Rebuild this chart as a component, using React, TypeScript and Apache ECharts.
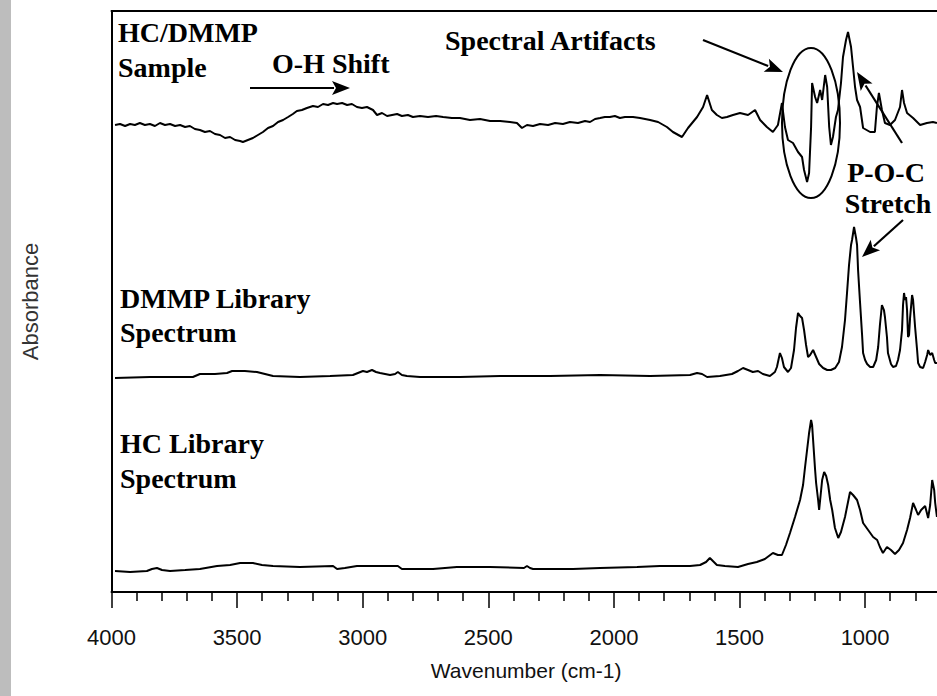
import React, { useEffect, useRef } from "react";
import * as echarts from "echarts";

// Wavenumber (cm-1), absorbance relative to each spectrum's own baseline
const sampleSpectrum: [number, number][] = [
  [3986, 0], [3966, 0.005], [3946, -0.005], [3926, 0.005], [3907, 0], [3887, 0.01], [3867, 0], [3847, 0.005],
  [3827, -0.005], [3807, 0.01], [3787, 0], [3767, 0.005], [3747, -0.005], [3727, 0], [3707, -0.01], [3688, -0.005],
  [3668, -0.02], [3648, -0.025], [3628, -0.035], [3608, -0.03], [3588, -0.045], [3568, -0.05], [3548, -0.065],
  [3528, -0.06], [3508, -0.075], [3488, -0.08], [3477, -0.085], [3457, -0.075], [3437, -0.065], [3417, -0.05],
  [3397, -0.035], [3377, -0.015], [3357, -0.005], [3337, 0.015], [3317, 0.025], [3297, 0.04], [3278, 0.055],
  [3262, 0.07], [3242, 0.075], [3222, 0.085], [3198, 0.095], [3178, 0.09], [3158, 0.105], [3138, 0.1], [3118, 0.11],
  [3102, 0.105], [3082, 0.11], [3062, 0.1], [3043, 0.105], [3023, 0.09], [3003, 0.085], [2983, 0.09], [2959, 0.075],
  [2943, 0.05], [2923, 0.06], [2903, 0.045], [2883, 0.05], [2863, 0.055], [2844, 0.045], [2820, 0.05], [2800, 0.04],
  [2772, 0.045], [2740, 0.04], [2708, 0.045], [2680, 0.04], [2645, 0.035], [2613, 0.035], [2573, 0.025], [2533, 0.03],
  [2493, 0.02], [2453, 0.02], [2414, 0.015], [2386, 0.01], [2366, -0.015], [2346, 0], [2322, -0.005], [2294, 0.005],
  [2262, 0], [2234, 0.01], [2203, 0.005], [2175, 0.015], [2143, 0.01], [2115, 0.02], [2095, 0.015], [2075, 0.03],
  [2055, 0.035], [2036, 0.04], [2016, 0.04], [1996, 0.045], [1976, 0.035], [1956, 0.04], [1924, 0.04], [1896, 0.035],
  [1856, 0.025], [1824, 0.015], [1789, -0.01], [1765, -0.035], [1729, -0.06], [1705, -0.015], [1669, 0.04],
  [1645, 0.09], [1629, 0.15], [1610, 0.075], [1590, 0.05], [1570, 0.035], [1550, 0.04], [1526, 0.05], [1498, 0.06],
  [1466, 0.05], [1438, 0.075], [1418, 0.025], [1391, -0.01], [1367, -0.035], [1347, 0], [1331, 0.11], [1319, -0.01],
  [1307, -0.075], [1287, -0.09], [1267, -0.135], [1251, -0.16], [1243, -0.225], [1231, -0.285], [1223, -0.24],
  [1215, -0.01], [1211, 0.21], [1199, 0.14], [1191, 0.11], [1179, 0.175], [1171, 0.125], [1159, 0.25], [1151, 0.19],
  [1143, -0.01], [1136, -0.1], [1128, -0.06], [1116, 0.04], [1108, 0.075], [1096, 0.21], [1088, 0.34], [1076, 0.425],
  [1068, 0.465], [1056, 0.39], [1048, 0.29], [1040, 0.19], [1032, 0.125], [1020, 0.09], [1008, -0.015], [980, -0.035],
  [961, -0.035], [953, 0.09], [945, 0.16], [933, 0.075], [921, 0.01], [901, 0], [881, 0.025], [861, 0.09], [853, 0.175],
  [845, 0.11], [833, 0.06], [809, 0.035], [781, 0], [754, 0.01], [730, 0.015], [714, 0.01],
];

const dmmpLibrary: [number, number][] = [
  [3986, -0.01], [3847, -0.005], [3676, -0.005], [3648, 0.01], [3588, 0.01], [3540, 0.015], [3520, 0.025],
  [3469, 0.025], [3421, 0.02], [3389, 0.01], [3357, 0], [3250, -0.005], [3130, 0], [3039, 0.005], [3019, 0.015],
  [2999, 0.025], [2983, 0.02], [2963, 0.03], [2947, 0.02], [2931, 0.015], [2911, 0.01], [2891, 0.005], [2871, 0.01],
  [2860, 0.02], [2844, 0.005], [2824, 0], [2772, -0.005], [2613, -0.005], [2453, 0], [2254, 0], [2055, 0.005],
  [1856, 0], [1697, 0.005], [1669, 0.015], [1649, 0.01], [1629, -0.005], [1578, 0], [1530, 0.01], [1506, 0.025],
  [1486, 0.04], [1466, 0.03], [1447, 0.02], [1426, 0.025], [1407, 0.01], [1379, 0], [1359, 0.02], [1351, 0.045],
  [1339, 0.115], [1331, 0.09], [1323, 0.045], [1307, 0.02], [1295, 0.04], [1283, 0.13], [1275, 0.24], [1267, 0.315],
  [1259, 0.3], [1251, 0.29], [1243, 0.23], [1235, 0.155], [1227, 0.095], [1219, 0.105], [1207, 0.13], [1195, 0.095],
  [1183, 0.06], [1167, 0.04], [1151, 0.03], [1136, 0.03], [1119, 0.04], [1104, 0.07], [1092, 0.145], [1080, 0.28],
  [1072, 0.415], [1064, 0.555], [1056, 0.655], [1052, 0.68], [1044, 0.745], [1036, 0.69], [1032, 0.655], [1028, 0.53],
  [1020, 0.365], [1012, 0.205], [1008, 0.115], [1000, 0.08], [992, 0.06], [980, 0.045], [968, 0.045], [956, 0.08],
  [948, 0.145], [941, 0.255], [933, 0.355], [925, 0.33], [921, 0.295], [913, 0.195], [909, 0.115], [897, 0.06],
  [889, 0.045], [877, 0.05], [869, 0.08], [861, 0.13], [853, 0.23], [849, 0.355], [845, 0.415], [841, 0.38],
  [837, 0.395], [833, 0.33], [829, 0.195], [825, 0.205], [821, 0.29], [813, 0.405], [809, 0.38], [801, 0.245],
  [793, 0.13], [789, 0.065], [781, 0.045], [769, 0.04], [761, 0.07], [753, 0.105], [749, 0.13], [741, 0.105],
  [733, 0.115], [725, 0.08], [721, 0.065], [714, 0.065],
];

const hcLibrary: [number, number][] = [
  [3986, 0], [3926, -0.005], [3859, 0], [3839, 0.01], [3819, 0.015], [3799, 0.005], [3767, 0], [3707, 0.005],
  [3648, 0.01], [3580, 0.025], [3528, 0.03], [3488, 0.04], [3437, 0.04], [3401, 0.03], [3357, 0.025], [3250, 0.02],
  [3118, 0.025], [3102, 0.01], [3071, 0.015], [3023, 0.025], [2931, 0.025], [2860, 0.025], [2844, 0.01], [2720, 0.01],
  [2625, 0.02], [2493, 0.02], [2358, 0.015], [2346, 0.025], [2334, 0.015], [2322, 0.01], [2163, 0.01], [2055, 0.015],
  [1908, 0.02], [1817, 0.025], [1697, 0.025], [1657, 0.03], [1633, 0.045], [1618, 0.065], [1602, 0.045], [1590, 0.03],
  [1558, 0.025], [1506, 0.02], [1466, 0.035], [1431, 0.045], [1399, 0.06], [1367, 0.09], [1347, 0.08], [1331, 0.08],
  [1315, 0.13], [1299, 0.19], [1279, 0.27], [1259, 0.355], [1247, 0.43], [1239, 0.52], [1231, 0.605], [1223, 0.69],
  [1215, 0.755], [1211, 0.73], [1207, 0.655], [1199, 0.505], [1195, 0.44], [1187, 0.355], [1183, 0.305], [1179, 0.355],
  [1171, 0.455], [1163, 0.495], [1155, 0.475], [1147, 0.43], [1139, 0.355], [1131, 0.305], [1120, 0.215], [1107, 0.165],
  [1096, 0.195], [1080, 0.27], [1068, 0.345], [1060, 0.395], [1048, 0.38], [1032, 0.355], [1020, 0.305], [1008, 0.24],
  [988, 0.205], [968, 0.17], [952, 0.155], [941, 0.12], [929, 0.09], [913, 0.12], [897, 0.105], [881, 0.085],
  [865, 0.105], [849, 0.14], [833, 0.205], [821, 0.265], [809, 0.34], [797, 0.305], [789, 0.28], [777, 0.305],
  [761, 0.325], [749, 0.265], [741, 0.33], [733, 0.455], [725, 0.405], [721, 0.34], [714, 0.27],
];

const spectra = [sampleSpectrum, dmmpLibrary, hcLibrary];
const seriesNames = ["HC/DMMP Sample", "DMMP Library Spectrum", "HC Library Spectrum"];
const baselineOffsets = [2.335, 1.08, 0.105];
const xTickLabels = [4000, 3500, 3000, 2500, 2000, 1500, 1000];

const SERIF = "'Liberation Serif', 'Times New Roman', serif";
const SANS = "'Liberation Sans', Arial, sans-serif";

function label(text: string, x: number, baseline: number, size = 28, align = "left") {
  return {
    type: "text",
    x,
    y: baseline - size * 0.34,
    style: {
      text,
      fill: "#000",
      font: `bold ${size}px ${SERIF}`,
      textAlign: align,
      textVerticalAlign: "middle",
      verticalAlign: "middle",
    },
    z: 10,
  };
}

function arrow(x1: number, y1: number, x2: number, y2: number, head = 18, half = 7) {
  const dx = x2 - x1;
  const dy = y2 - y1;
  const len = Math.sqrt(dx * dx + dy * dy);
  const ux = dx / len;
  const uy = dy / len;
  const bx = x2 - ux * head;
  const by = y2 - uy * head;
  return [
    { type: "line", shape: { x1, y1, x2: bx + ux * 2, y2: by + uy * 2 }, style: { stroke: "#000", lineWidth: 2.2 }, z: 10 },
    {
      type: "polygon",
      shape: { points: [[x2, y2], [bx - uy * half, by + ux * half], [bx + ux * 4, by + uy * 4], [bx + uy * half, by - ux * half]] },
      style: { fill: "#000" },
      z: 10,
    },
  ];
}

export default function App() {
  const ref = useRef<HTMLDivElement>(null);
  useEffect(() => {
    if (!ref.current) return;
    const chart = echarts.init(ref.current, null, { renderer: "svg" });
    const option = {
      animation: false,
      backgroundColor: "#fff",
      grid: { left: 111.5, top: 11, width: 879.2, height: 581, containLabel: false, outerBoundsMode: "none" },
      xAxis: [
        {
          type: "value",
          inverse: true,
          min: 500,
          max: 4000,
          interval: 500,
          name: "Wavenumber (cm-1)",
          nameLocation: "middle",
          nameGap: 68,
          nameTextStyle: { fontFamily: SANS, fontSize: 21, color: "#111", padding: [0, 50, 0, 0] },
          axisLine: { show: true, onZero: false, lineStyle: { color: "#000", width: 2 } },
          axisTick: { show: true, length: 16, lineStyle: { color: "#000", width: 1.5 } },
          minorTick: { show: true, splitNumber: 5, length: 9, lineStyle: { color: "#000", width: 1.5 } },
          splitLine: { show: false },
          minorSplitLine: { show: false },
          axisLabel: {
            margin: 34,
            fontFamily: SANS,
            fontSize: 22,
            color: "#111",
            formatter: (v: number) => (xTickLabels.includes(v) ? String(v) : ""),
          },
        },
        {
          type: "value",
          position: "top",
          inverse: true,
          min: 500,
          max: 4000,
          axisLine: { show: true, onZero: false, lineStyle: { color: "#000", width: 2 } },
          axisTick: { show: false },
          axisLabel: { show: false },
          splitLine: { show: false },
        },
      ],
      yAxis: {
        type: "value",
        min: 0,
        max: 2.905,
        name: "Absorbance",
        nameLocation: "middle",
        nameGap: 70,
        nameRotate: 90,
        nameTextStyle: { fontFamily: SANS, fontSize: 22, color: "#333" },
        axisLine: { show: true, onZero: false, lineStyle: { color: "#000", width: 2 } },
        axisTick: { show: false },
        axisLabel: { show: false },
        splitLine: { show: false },
      },
      series: spectra.map((data, i) => ({
        name: seriesNames[i],
        type: "line",
        xAxisIndex: 0,
        showSymbol: false,
        symbol: "none",
        lineStyle: { color: "#000", width: 2 },
        data: data.map(([w, a]) => [w, a + baselineOffsets[i]]),
      })),
      graphic: [
        { type: "rect", shape: { x: 0, y: 0, width: 11, height: 696 }, style: { fill: "#bdbdbd" }, z: 0 },
        label("HC/DMMP", 118, 42),
        label("Sample", 118, 77),
        label("O-H Shift", 272, 73),
        ...arrow(250, 88, 350, 88),
        label("Spectral Artifacts", 445, 50),
        ...arrow(703, 40, 783, 72),
        { type: "ellipse", shape: { cx: 811, cy: 123, rx: 29, ry: 75 }, style: { fill: "none", stroke: "#000", lineWidth: 2 }, z: 10 },
        label("P-O-C", 886, 182, 28, "center"),
        label("Stretch", 888, 213, 28, "center"),
        ...arrow(902, 143, 857, 72),
        ...arrow(903, 220, 862, 257),
        label("DMMP Library", 120, 308),
        label("Spectrum", 120, 342),
        label("HC Library", 120, 453),
        label("Spectrum", 120, 488),
      ],
    };
    chart.setOption(option as any);
    return () => chart.dispose();
  }, []);
  return <div ref={ref} style={{ position: "fixed", left: 0, top: 0, width: 937, height: 696 }} />;
}
